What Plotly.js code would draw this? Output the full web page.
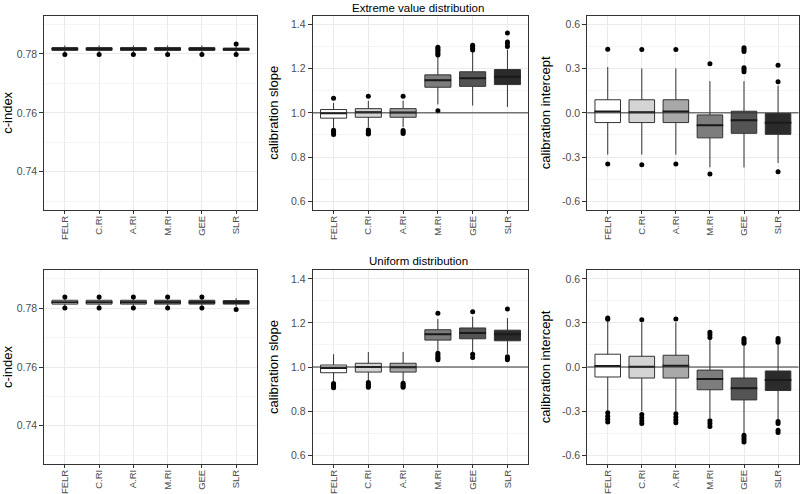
<!DOCTYPE html>
<html><head><meta charset="utf-8">
<script src="https://cdn.plot.ly/plotly-3.0.1.min.js"></script>
<style>html,body{margin:0;padding:0;background:#fff}</style>
</head><body><div id="chart" style="width:800px;height:494px"></div>
<script>
// ---------- data ----------
const methods = ['FELR','C.RI','A.RI','M.RI','GEE','SLR'];
const fills = ['#ffffff','#d4d4d4','#a8a8a8','#7d7d7d','#545454','#2b2b2b'];

// Row 1: Extreme value distribution
const ext_cindex_lower  = [0.7806,0.7806,0.7806,0.7806,0.7806,0.7806];
const ext_cindex_q1     = [0.7812,0.7812,0.7812,0.7812,0.7812,0.7812];
const ext_cindex_median = [0.7817,0.7817,0.7817,0.7817,0.7817,0.7816];
const ext_cindex_q3     = [0.7822,0.7822,0.7822,0.7822,0.7822,0.7820];
const ext_cindex_upper  = [0.7829,0.7829,0.7829,0.7829,0.7829,0.7828];
const ext_cindex_out    = [[0.7798],[0.7798],[0.7798],[0.7798],[0.7798],[0.7834,0.7798]];

const ext_slope_lower  = [0.930,0.935,0.935,1.038,1.033,1.027];
const ext_slope_q1     = [0.976,0.980,0.980,1.116,1.120,1.128];
const ext_slope_median = [0.998,1.003,1.002,1.148,1.157,1.164];
const ext_slope_q3     = [1.015,1.019,1.019,1.172,1.186,1.196];
const ext_slope_upper  = [1.045,1.055,1.055,1.256,1.279,1.286];
const ext_slope_out    = [[1.066,0.921,0.912,0.902],[1.075,0.922,0.915,0.908,0.904],[1.075,0.920,0.913,0.906],
                          [1.297,1.290,1.283,1.276,1.268,1.262,1.010],[1.306,1.299,1.292,1.285],[1.362,1.321,1.313,1.301]];

const ext_int_lower  = [-0.284,-0.284,-0.284,-0.370,-0.371,-0.341];
const ext_int_q1     = [-0.066,-0.066,-0.066,-0.170,-0.139,-0.146];
const ext_int_median = [0.009,0.004,0.009,-0.084,-0.050,-0.068];
const ext_int_q3     = [0.089,0.089,0.089,-0.014,0.011,-0.005];
const ext_int_upper  = [0.311,0.302,0.302,0.215,0.215,0.185];
const ext_int_out    = [[0.432,-0.348],[0.430,-0.352],[0.430,-0.348],[0.334,-0.416],
                        [0.443,0.430,0.416,0.307,0.295,0.280],[0.323,0.211,-0.400]];

// Row 2: Uniform distribution
const uni_cindex_lower  = [0.7807,0.7807,0.7807,0.7807,0.7807,0.7805];
const uni_cindex_q1     = [0.7814,0.7814,0.7814,0.7814,0.7814,0.7814];
const uni_cindex_median = [0.7820,0.7820,0.7820,0.7820,0.7820,0.7820];
const uni_cindex_q3     = [0.7827,0.7827,0.7827,0.7827,0.7827,0.7826];
const uni_cindex_upper  = [0.7832,0.7832,0.7832,0.7832,0.7832,0.7834];
const uni_cindex_out    = [[0.7838,0.7801],[0.7838,0.7801],[0.7838,0.7801],[0.7838,0.7801],[0.7838,0.7801],[0.7796]];

const uni_slope_lower  = [0.936,0.936,0.933,1.073,1.068,1.060];
const uni_slope_q1     = [0.974,0.977,0.977,1.122,1.128,1.119];
const uni_slope_median = [0.995,1.000,0.999,1.148,1.154,1.148];
const uni_slope_q3     = [1.009,1.017,1.017,1.169,1.177,1.167];
const uni_slope_upper  = [1.058,1.068,1.068,1.218,1.228,1.222];
const uni_slope_out    = [[0.925,0.918,0.912,0.906],[0.930,0.922,0.915,0.908],[0.926,0.920,0.914,0.908],
                          [1.244,1.062,1.055,1.047,1.040,1.033],[1.251,1.058,1.043],[1.263,1.047,1.040,1.033]];

const uni_int_lower  = [-0.297,-0.301,-0.300,-0.347,-0.449,-0.358];
const uni_int_q1     = [-0.068,-0.075,-0.075,-0.155,-0.224,-0.160];
const uni_int_median = [0.007,0.002,0.009,-0.082,-0.144,-0.089];
const uni_int_q3     = [0.087,0.073,0.080,-0.021,-0.075,-0.027];
const uni_int_upper  = [0.310,0.303,0.303,0.189,0.155,0.155];
const uni_int_out    = [[0.333,0.325,-0.312,-0.335,-0.355,-0.375],[0.322,-0.324,-0.345,-0.365,-0.385],
                        [0.326,-0.318,-0.340,-0.360,-0.380],[0.237,0.220,0.201,-0.365,-0.385,-0.404],
                        [0.194,0.183,0.172,0.162,-0.465,-0.480,-0.495,-0.511],[0.194,0.180,0.168,-0.370,-0.385,-0.430,-0.445]];

// tick labels
const cindexTicks = [0.74,0.76,0.78];
const cindexTickText = ['0.74','0.76','0.78'];
const slopeTicks = [0.6,0.8,1.0,1.2,1.4];
const slopeTickText = ['0.6','0.8','1.0','1.2','1.4'];
const intTicks = [-0.6,-0.3,0.0,0.3,0.6];
const intTickText = ['-0.6','-0.3','0.0','0.3','0.6'];

const panelTitles = ['Extreme value distribution','Uniform distribution'];

// ---------- build ----------
const panels = [
  {ax:'', st:[ext_cindex_lower,ext_cindex_q1,ext_cindex_median,ext_cindex_q3,ext_cindex_upper], out:ext_cindex_out},
  {ax:'2',st:[ext_slope_lower,ext_slope_q1,ext_slope_median,ext_slope_q3,ext_slope_upper], out:ext_slope_out},
  {ax:'3',st:[ext_int_lower,ext_int_q1,ext_int_median,ext_int_q3,ext_int_upper], out:ext_int_out},
  {ax:'4',st:[uni_cindex_lower,uni_cindex_q1,uni_cindex_median,uni_cindex_q3,uni_cindex_upper], out:uni_cindex_out},
  {ax:'5',st:[uni_slope_lower,uni_slope_q1,uni_slope_median,uni_slope_q3,uni_slope_upper], out:uni_slope_out},
  {ax:'6',st:[uni_int_lower,uni_int_q1,uni_int_median,uni_int_q3,uni_int_upper], out:uni_int_out}
];

const traces = [];
panels.forEach(p => {
  const xa = 'x'+p.ax, ya = 'y'+p.ax;
  methods.forEach((m,i) => {
    traces.push({
      type:'box', x:[m], lowerfence:[p.st[0][i]], q1:[p.st[1][i]], median:[p.st[2][i]],
      q3:[p.st[3][i]], upperfence:[p.st[4][i]], boxpoints:false, width:0.75, whiskerwidth:0,
      fillcolor:fills[i], line:{color:'#333333', width:1}, xaxis:xa, yaxis:ya,
      showlegend:false, hoverinfo:'skip'
    });
  });
  // thicker median lines
  traces.push({
    type:'scatter', mode:'markers', x:methods, y:p.st[2], xaxis:xa, yaxis:ya,
    marker:{symbol:'line-ew', size:19, color:'#1a1a1a', line:{color:'#1a1a1a', width:2}},
    showlegend:false, hoverinfo:'skip'
  });
  // outliers
  const ox = [], oy = [];
  methods.forEach((m,i) => p.out[i].forEach(v => { ox.push(m); oy.push(v); }));
  traces.push({
    type:'scatter', mode:'markers', x:ox, y:oy, xaxis:xa, yaxis:ya,
    marker:{size:5, color:'#000000'}, showlegend:false, hoverinfo:'skip'
  });
});

const W = 800, H = 494;
const colsPx = [[44.3,256.7],[312.7,528.3],[587.3,798.5]];
const rowsPx = [[15.7,210],[270,464]];
const xdom = c => [colsPx[c][0]/W, colsPx[c][1]/W];
const ydom = r => [1-rowsPx[r][1]/H, 1-rowsPx[r][0]/H];

const tickFontY = {family:'Liberation Sans, Arial, sans-serif', size:10.5, color:'#4d4d4d'};
const tickFontX = {family:'Liberation Sans, Arial, sans-serif', size:9.5, color:'#4d4d4d'};
const titleFont = {family:'Liberation Sans, Arial, sans-serif', size:13, color:'#000000'};

function xaxis(c, r, anchor){
  return {domain:xdom(c), anchor:anchor, type:'category', categoryorder:'array', categoryarray:methods,
    range:[-0.6,5.6], showgrid:true, gridcolor:'#ebebeb', gridwidth:1, zeroline:false,
    showline:true, mirror:true, linecolor:'#333333', linewidth:1,
    ticks:'outside', ticklen:3, tickwidth:1, tickcolor:'#333333', tickangle:-90,
    ticklabelstandoff:-2, tickfont:tickFontX, fixedrange:true};
}
function yaxis(c, r, anchor, kind){
  const base = {domain:ydom(r), anchor:anchor, showgrid:true, gridcolor:'#ebebeb', gridwidth:1,
    zeroline:false, showline:true, mirror:true, linecolor:'#333333', linewidth:1,
    ticks:'outside', ticklen:4, tickwidth:1, tickcolor:'#333333', tickfont:tickFontY,
    tickmode:'array', fixedrange:true};
  if(kind==='c'){
    return Object.assign(base, {range:[0.727,0.793], tickvals:cindexTicks, ticktext:cindexTickText,
      minor:{tickmode:'linear', tick0:0.73, dtick:0.02, showgrid:true, gridcolor:'#ebebeb', gridwidth:0.5, ticks:''},
      title:{text:'c-index', font:titleFont, standoff:4}});
  } else if(kind==='s'){
    return Object.assign(base, {range:[0.56,1.44], tickvals:slopeTicks, ticktext:slopeTickText,
      minor:{tickmode:'linear', tick0:0.7, dtick:0.2, showgrid:true, gridcolor:'#ebebeb', gridwidth:0.5, ticks:''},
      title:{text:'calibration slope', font:titleFont, standoff:9}});
  } else {
    return Object.assign(base, {range:[-0.66,0.66], tickvals:intTicks, ticktext:intTickText,
      minor:{tickmode:'linear', tick0:-0.45, dtick:0.3, showgrid:true, gridcolor:'#ebebeb', gridwidth:0.5, ticks:''},
      title:{text:'calibration intercept', font:titleFont, standoff:8}});
  }
}

const layout = {
  width:W, height:H, margin:{l:0,r:0,t:0,b:0,pad:0},
  paper_bgcolor:'#ffffff', plot_bgcolor:'#ffffff', boxmode:'overlay', showlegend:false,
  font:{family:'Liberation Sans, Arial, sans-serif'},
  xaxis: xaxis(0,0,'y'),  yaxis: yaxis(0,0,'x','c'),
  xaxis2:xaxis(1,0,'y2'), yaxis2:yaxis(1,0,'x2','s'),
  xaxis3:xaxis(2,0,'y3'), yaxis3:yaxis(2,0,'x3','i'),
  xaxis4:xaxis(0,1,'y4'), yaxis4:yaxis(0,1,'x4','c'),
  xaxis5:xaxis(1,1,'y5'), yaxis5:yaxis(1,1,'x5','s'),
  xaxis6:xaxis(2,1,'y6'), yaxis6:yaxis(2,1,'x6','i'),
  shapes:[
    {type:'line', xref:'x2 domain', x0:0, x1:1, yref:'y2', y0:1, y1:1, line:{color:'#333333', width:1}, layer:'above'},
    {type:'line', xref:'x3 domain', x0:0, x1:1, yref:'y3', y0:0, y1:0, line:{color:'#333333', width:1}, layer:'above'},
    {type:'line', xref:'x5 domain', x0:0, x1:1, yref:'y5', y0:1, y1:1, line:{color:'#333333', width:1}, layer:'above'},
    {type:'line', xref:'x6 domain', x0:0, x1:1, yref:'y6', y0:0, y1:0, line:{color:'#333333', width:1}, layer:'above'}
  ],
  annotations:[
    {text:panelTitles[0], xref:'x2 domain', x:0.49, yref:'y2 domain', y:1, yanchor:'bottom', yshift:0,
     showarrow:false, font:{family:'Liberation Sans, Arial, sans-serif', size:11.5, color:'#000'}},
    {text:panelTitles[1], xref:'x5 domain', x:0.49, yref:'y5 domain', y:1, yanchor:'bottom', yshift:1,
     showarrow:false, font:{family:'Liberation Sans, Arial, sans-serif', size:11.5, color:'#000'}}
  ]
};

Plotly.newPlot('chart', traces, layout, {staticPlot:true, displayModeBar:false});
</script></body></html>
